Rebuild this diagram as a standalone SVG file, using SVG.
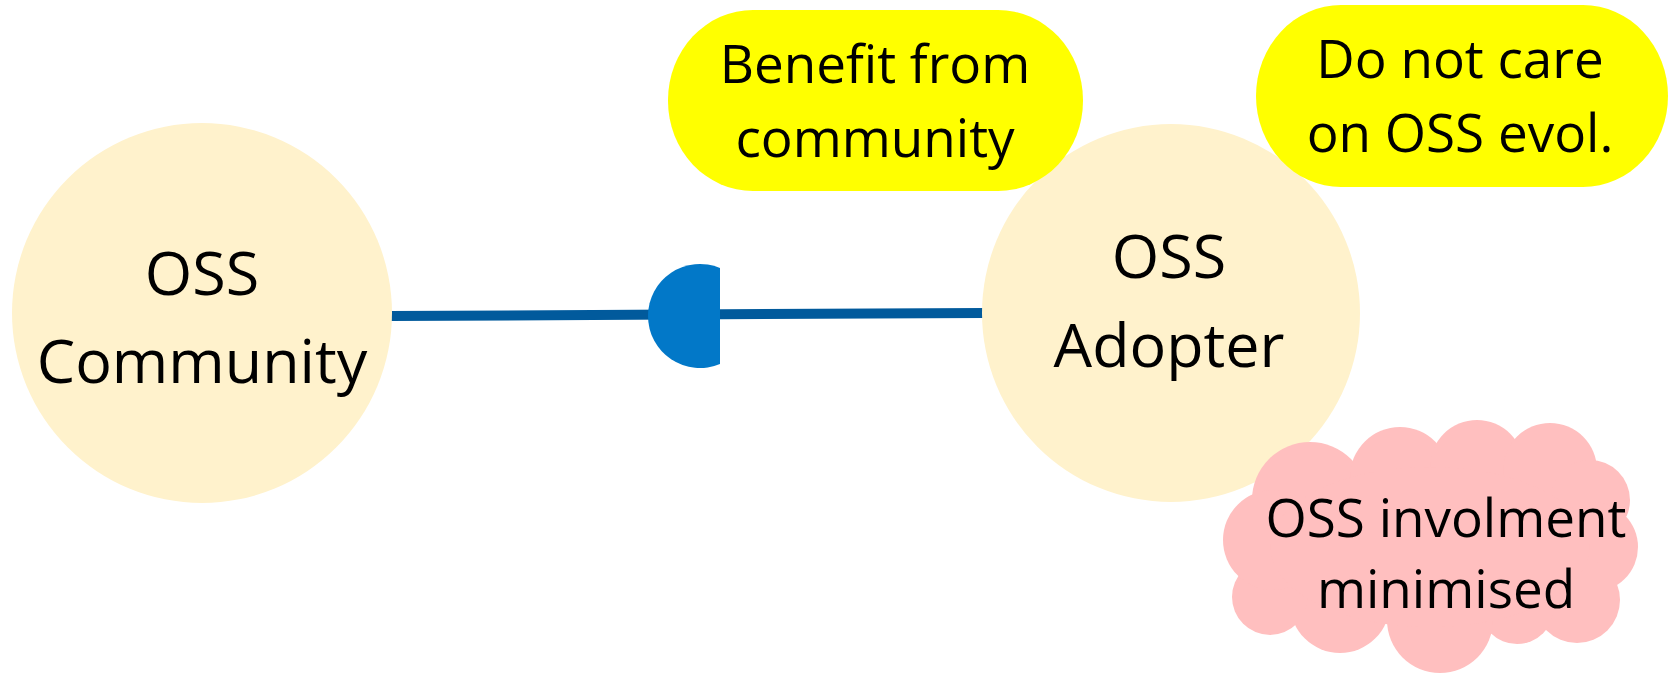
<svg xmlns="http://www.w3.org/2000/svg" width="1674" height="675" viewBox="0 0 1674 675">
<style>
text{font-family:"Open Sans","Noto Sans","Liberation Sans",sans-serif;fill:#000;text-anchor:middle}
.actor{fill:#fff2cc}
.goal{fill:#ffff00}
.soft{fill:#ffbfbf}
.big{font-size:61px}
.small{font-size:53px}
</style>
<rect width="1674" height="675" fill="#fff"/>
<g id="connectors">
<line x1="390" y1="316" x2="984" y2="313" stroke="#015a9c" stroke-width="10"/>
<path d="M720,268 A52,52 0 1 0 720,364 Z" fill="#0278c8"/>
</g>
<g id="oss-community">
<circle class="actor" cx="202" cy="313" r="190"/>
<text class="big" x="202" y="295">OSS</text>
<text class="big" x="202" y="383">Community</text>
</g>
<g id="oss-adopter">
<circle class="actor" cx="1171" cy="313" r="189"/>
<text class="big" x="1169" y="278">OSS</text>
<text class="big" x="1169" y="367">Adopter</text>
</g>
<g id="benefit">
<rect class="goal" x="668" y="10" width="415" height="181" rx="85" ry="90"/>
<text class="small" x="875" y="83">Benefit from</text>
<text class="small" x="875" y="157">community</text>
</g>
<g id="do-not-care">
<rect class="goal" x="1256" y="5" width="412" height="182" rx="85" ry="91"/>
<text class="small" x="1460" y="78">Do not care</text>
<text class="small" x="1460" y="152">on OSS evol.</text>
</g>
<g id="involvement">
<circle class="soft" cx="1310" cy="500" r="58"/>
<circle class="soft" cx="1400" cy="477" r="50"/>
<circle class="soft" cx="1477" cy="467" r="47"/>
<circle class="soft" cx="1550" cy="470" r="47"/>
<circle class="soft" cx="1590" cy="500" r="40"/>
<circle class="soft" cx="1593" cy="547" r="45"/>
<circle class="soft" cx="1577" cy="600" r="43"/>
<circle class="soft" cx="1517" cy="607" r="37"/>
<circle class="soft" cx="1440" cy="620" r="53"/>
<circle class="soft" cx="1340" cy="603" r="50"/>
<circle class="soft" cx="1270" cy="597" r="38"/>
<circle class="soft" cx="1273" cy="540" r="50"/>
<ellipse class="soft" cx="1430" cy="547" rx="160" ry="80"/>
<text class="small" x="1446" y="537">OSS involment</text>
<text class="small" x="1446" y="608">minimised</text>
</g>
</svg>
